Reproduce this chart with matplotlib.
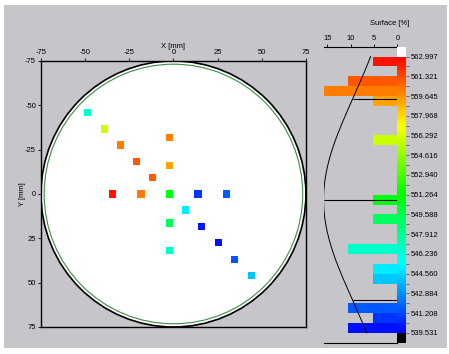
import numpy as np
import matplotlib
matplotlib.use('Agg')
import matplotlib.pyplot as plt
from matplotlib.colors import LinearSegmentedColormap, Normalize
from matplotlib.patches import Circle, Rectangle

# measurement sites on the wafer (mm) and surface value at each site
x_mm = [-34.4, -20.8, -11.8, -30.2, -2.2, -18.4, -2.2, -39.2, -2.2, -2.2,
        -48.6, -2.2, 6.9, 44.0, 29.9, 34.6, 13.9, 16.1, 25.4]
y_mm = [0.0, -18.4, -9.2, -27.6, -32.0, 0.0, -16.0, -36.6, 0.0, 16.4,
        -46.1, 32.0, 9.0, 46.1, 0.0, 36.8, 0.0, 18.2, 27.5]
surface = [562.6, 560.9, 560.8, 560.1, 560.0, 560.2, 559.2, 555.9, 550.8, 549.2,
           546.7, 546.6, 545.0, 544.1, 541.7, 541.5, 540.8, 540.0, 539.9]

scale_ticks = [562.997, 561.321, 559.645, 557.968, 556.292, 554.616, 552.940, 551.264,
               549.588, 547.912, 546.236, 544.560, 542.884, 541.208, 539.531]
axis_ticks = [-75, -50, -25, 0, 25, 50, 75]
pct_ticks = [15, 10, 5, 0]

vmin, vmax = min(scale_ticks), max(scale_ticks)
nbins = 2 * (len(scale_ticks) - 1)
step = (vmax - vmin) / nbins

cmap = LinearSegmentedColormap.from_list('surf', ['blue', 'cyan', 'lime', 'yellow', 'red'])
norm = Normalize(vmin, vmax)

plt.rcParams['font.family'] = ['Liberation Sans', 'DejaVu Sans']
plt.rcParams['font.size'] = 5.5
plt.rcParams['axes.unicode_minus'] = False
gray = '#c6c6ca'

fig = plt.figure(figsize=(4.49, 3.54), dpi=100)
fig.patches.append(Rectangle((0.009, 0.017), 0.987, 0.969, transform=fig.transFigure,
                             facecolor=gray, edgecolor='none', zorder=-10))

# wafer map
ax = fig.add_axes([0.0913, 0.0763, 0.590, 0.7514])
ax.set_facecolor(gray)
ax.add_patch(Circle((0, 0), 75, facecolor='white', edgecolor='black', lw=1.2, zorder=1))
ax.add_patch(Circle((0, 0), 73.2, facecolor='none', edgecolor='#3c8c46', lw=0.8, zorder=2))
ax.scatter(x_mm, y_mm, c=surface, cmap=cmap, norm=norm, marker='s', s=27,
           linewidths=0, zorder=3)
ax.set_xlim(-75, 75)
ax.set_ylim(75, -75)
ax.set_xticks(axis_ticks)
ax.set_yticks(axis_ticks)
ax.xaxis.tick_top()
ax.xaxis.set_label_position('top')
ax.set_xlabel('X [mm]', labelpad=1)
ax.set_ylabel('Y [mm]')
ax.yaxis.set_label_coords(-0.055, 0.5)
ax.tick_params(length=2.5, width=0.6, pad=1)
for s in ax.spines.values():
    s.set_linewidth(1.0)

# distribution histogram
edges = vmin + step * np.arange(nbins + 1)
counts, _ = np.histogram(surface, bins=edges)
pct = counts / len(surface) * 100
centers = (edges[:-1] + edges[1:]) / 2

hx = fig.add_axes([0.7216, 0.0319, 0.1637, 0.8362])
hx.set_facecolor('none')
keep = pct > 0
hx.barh(centers[keep], pct[keep], height=step, color=cmap(norm(centers[keep])), zorder=2)

mu = np.mean(surface)
sd = np.std(surface, ddof=1)
peak = pct.max()
yy = np.linspace(vmin, vmax, 200)
hx.plot(peak * np.exp(-0.5 * ((yy - mu) / sd) ** 2), yy, color='black', lw=0.7, zorder=3)
marks = np.array([mu - sd, mu, mu + sd])
hx.hlines(marks, 0, peak * np.exp(-0.5 * ((marks - mu) / sd) ** 2), color='black', lw=0.8, zorder=3)

hx.set_xlim(15.7, 0)
hx.set_ylim(vmin - step, vmax + step)
hx.set_xticks(pct_ticks)
hx.set_yticks([])
hx.xaxis.tick_top()
hx.tick_params(axis='x', length=2.5, width=0.6, pad=1)
hx.spines['left'].set_visible(False)
hx.spines['right'].set_visible(False)
hx.spines['top'].set_linewidth(0.8)
hx.spines['bottom'].set_linewidth(0.8)
hx.text(0.9, 1.08, 'Surface [%]', transform=hx.transAxes, ha='center', va='center')

# colour scale
cx = fig.add_axes([0.8853, 0.0319, 0.0189, 0.8362])
grad = np.linspace(vmin, vmax, 256).reshape(-1, 1)
cx.imshow(grad, cmap=cmap, norm=norm, aspect='auto', origin='lower',
          extent=[0, 1, vmin, vmax])
cx.add_patch(Rectangle((0, vmax), 1, step, facecolor='white', edgecolor='none'))
cx.add_patch(Rectangle((0, vmin - step), 1, step, facecolor='black', edgecolor='none'))
cx.set_xlim(0, 1)
cx.set_ylim(vmin - step, vmax + step)
cx.set_xticks([])
cx.yaxis.tick_right()
cx.set_yticks(scale_ticks)
cx.set_yticklabels(['%.3f' % t for t in scale_ticks])
cx.set_yticks(centers[1::2] + step / 2 - step, minor=True)
cx.tick_params(axis='y', which='both', length=2.5, width=0.6, pad=1, color='#555555')
for s in cx.spines.values():
    s.set_visible(False)

fig.savefig('out.png', dpi=100, facecolor='white')
